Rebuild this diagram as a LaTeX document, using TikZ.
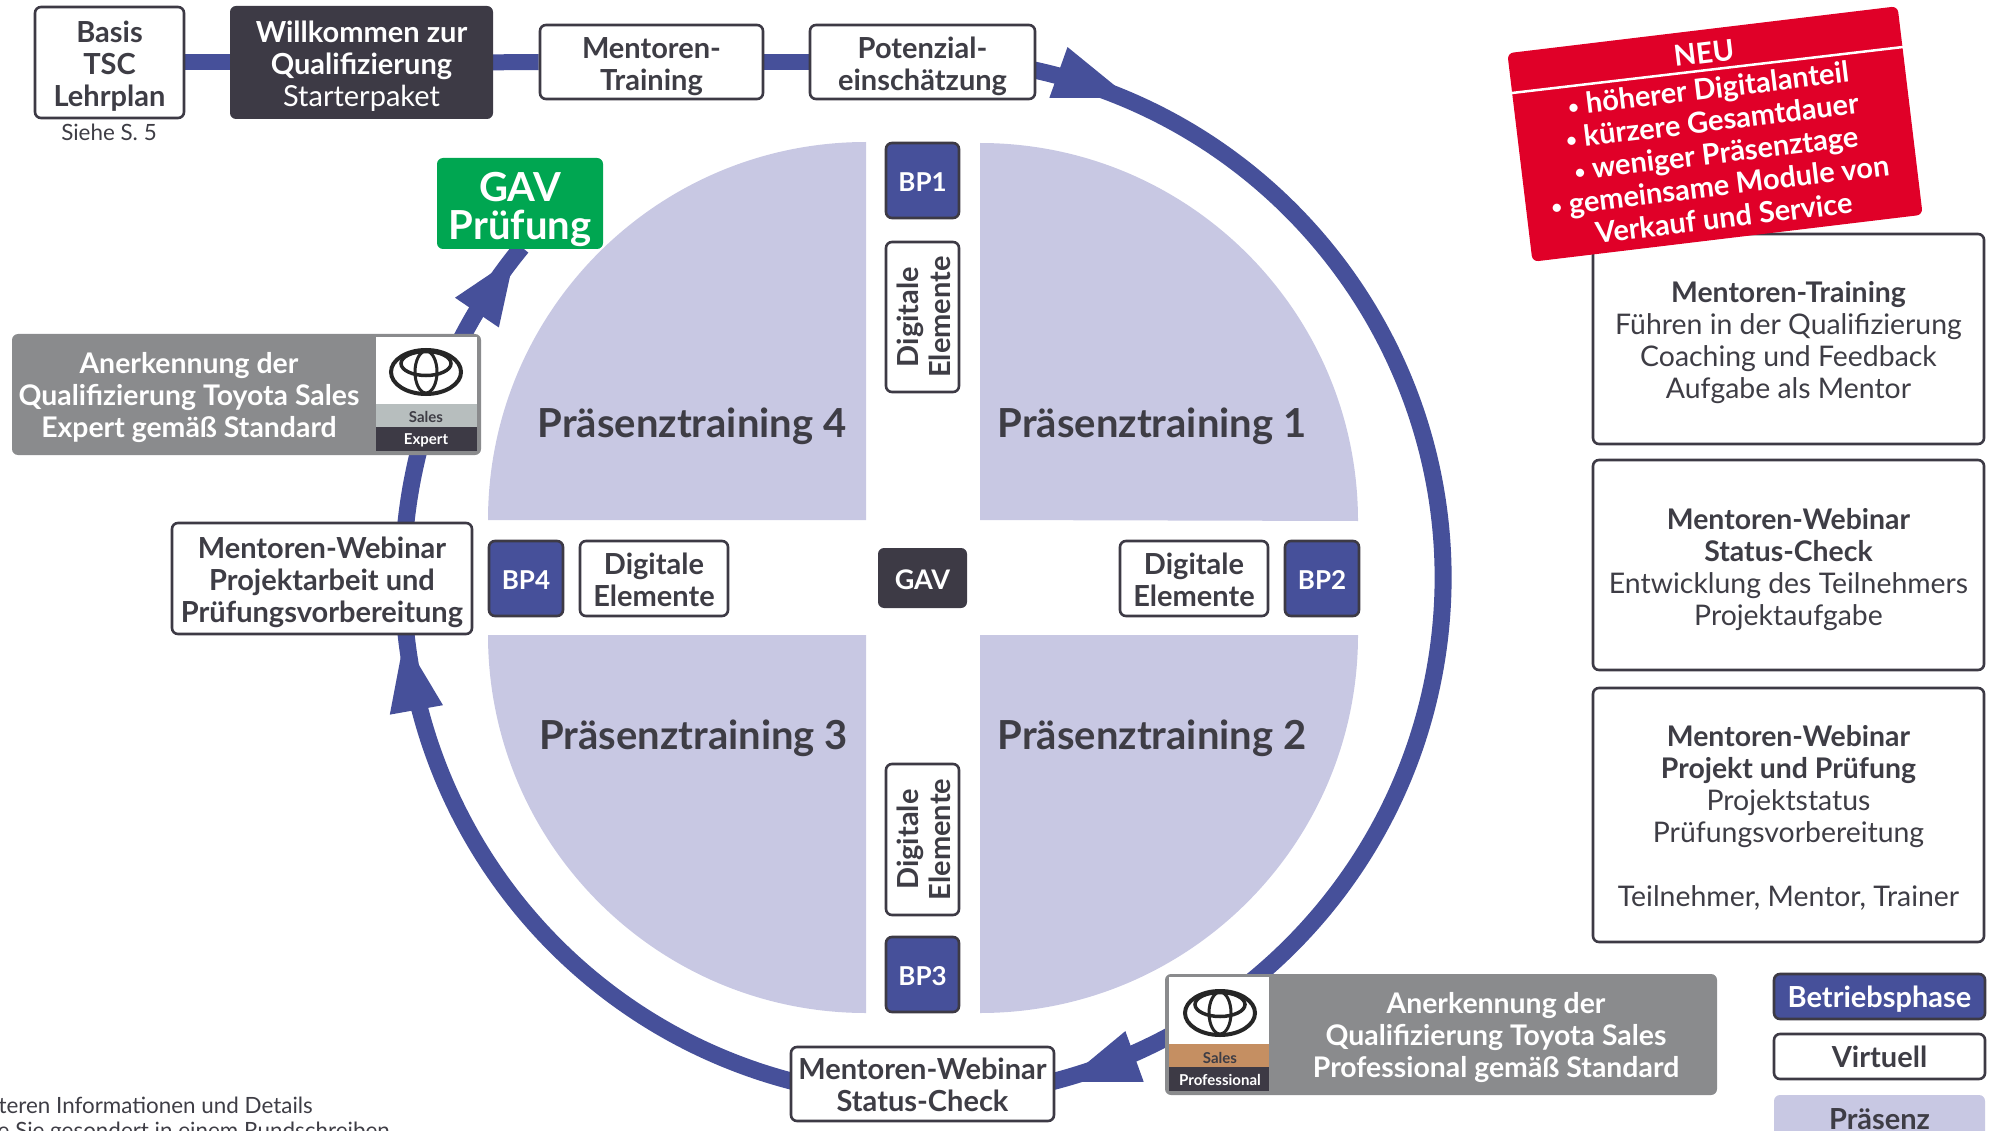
\documentclass[tikz,border=0pt]{standalone}
\usepackage{fontspec}
\setmainfont{Lato}
\usetikzlibrary{arrows.meta,calc}
\pgfdeclarelayer{bg}
\pgfsetlayers{bg,main}
\definecolor{tblue}{HTML}{46509A}
\definecolor{tlav}{HTML}{C8C8E3}
\definecolor{tdark}{HTML}{3D3A45}
\definecolor{ttext}{HTML}{3E3D45}
\definecolor{tgreen}{HTML}{00A651}
\definecolor{tred}{HTML}{E00028}
\definecolor{tgrey}{HTML}{8A8B8D}
\definecolor{ttan}{HTML}{C58F62}
\definecolor{tsil}{HTML}{B7BEBE}
\newcommand{\fs}[2]{\fontsize{#1}{#2}\selectfont}
\newcommand{\T}[1]{\raisebox{-6pt}[\height][\depth]{\begin{tabular}{@{}c@{}}#1\end{tabular}}}
\newcommand{\Tr}[1]{\raisebox{-5pt}[\height][\depth]{\begin{tabular}{@{}c@{}}#1\end{tabular}}}
\newcommand{\sbul}{\raisebox{1.5pt}{\scalebox{0.65}{•}}}
\tikzset{
 base/.style={rounded corners=6pt,inner sep=0pt,align=center,text=ttext,font=\fs{29}{32}},
 wbox/.style={base,draw=tdark,line width=2.6pt,fill=white,font=\fs{29}{32}\bfseries},
 dbox/.style={base,fill=tdark,text=white,font=\fs{29}{32}},
 bpbox/.style={base,draw=tdark,line width=2.6pt,fill=tblue,text=white,font=\fs{26}{32}\bfseries},
 infobox/.style={wbox,font=\fs{28.4}{32}},
 greybox/.style={base,fill=tgrey,text=white,font=\fs{28.4}{32}\bfseries},
 piecolor/.style={fill=tlav,draw=none},
 ptext/.style={text=ttext,font=\fs{40}{40}\bfseries,inner sep=0pt},
 ringline/.style={draw=tblue,line width=17pt},
 chain/.style={draw=tblue,line width=16pt},
 headline/.style={draw=tblue,line width=10pt},
 plain/.style={inner sep=0pt,text=ttext,font=\fs{22.4}{26}},
 badge/.style={inner sep=0pt,font=\fs{15}{16}\bfseries},
 panel/.style={fill=white,draw=none},
 logoring/.style={draw=black!85,fill=none},
}
\begin{document}
\begin{tikzpicture}[x=1pt,y=-1pt]
\useasboundingbox (0,0) rectangle (1993,1131);
\coordinate (rc) at (923,578);
% top chain
\node[wbox,minimum width=149pt,minimum height=111pt] (basis) at (109.5,62.5) {\T{Basis\\TSC\\Lehrplan}};
\node[plain] (siehe) at (109,132) {Siehe S. 5};
\node[dbox,minimum width=263pt,minimum height=113pt] (will) at (361.5,62.5) {\T{\bfseries Willkommen zur\\\bfseries Qualifizierung\\Starterpaket}};
\node[wbox,minimum width=223pt,minimum height=74pt] (mt) at (651.5,62) {\T{Mentoren-\\Training}};
\node[wbox,minimum width=225pt,minimum height=74pt] (pot) at (922.5,62) {\T{Potenzial-\\einschätzung}};
% centre
\node[base,fill=tgreen,minimum width=166pt,minimum height=91pt] (gavp) at (520,203.5) {};
\node[inner sep=0pt,text=white,align=center,font=\fs{40}{38}\bfseries] (gavt) at (520,209) {GAV\\Prüfung};
\node[bpbox,minimum width=73pt,minimum height=75pt] (bp1) at (922.5,180.5) {\Tr{BP1}};
\node[wbox,rotate=90,minimum width=150pt,minimum height=73pt] (de1) at (922.5,317) {\T{Digitale\\Elemente}};
\node[wbox,minimum width=300pt,minimum height=111pt] (webl) at (322,578.5) {\T{Mentoren-Webinar\\Projektarbeit und\\Prüfungsvorbereitung}};
\node[bpbox,minimum width=74pt,minimum height=75pt] (bp4) at (526,578.5) {\Tr{BP4}};
\node[wbox,minimum width=148pt,minimum height=75pt] (de4) at (654,578.5) {\T{Digitale\\Elemente}};
\node[base,fill=tdark,text=white,minimum width=89pt,minimum height=60pt,font=\fs{27}{32}\bfseries] (gav) at (922.5,578) {\Tr{GAV}};
\node[wbox,minimum width=148pt,minimum height=75pt] (de2) at (1194,578.5) {\T{Digitale\\Elemente}};
\node[bpbox,minimum width=74pt,minimum height=75pt] (bp2) at (1322,578.5) {\Tr{BP2}};
\node[wbox,rotate=90,minimum width=151pt,minimum height=73pt] (de3) at (922.5,839.5) {\T{Digitale\\Elemente}};
\node[bpbox,minimum width=73pt,minimum height=75pt] (bp3) at (922.5,974.5) {\Tr{BP3}};
\node[wbox,minimum width=263pt,minimum height=74pt] (webb) at (922.5,1084) {\Tr{Mentoren-Webinar\\Status-Check}};
\node[ptext] (p1) at (1152,426.5) {Präsenztraining 1};
\node[ptext] (p2) at (1152,738.5) {Präsenztraining 2};
\node[ptext] (p3) at (693.5,738.5) {Präsenztraining 3};
\node[ptext] (p4) at (692,426.5) {Präsenztraining 4};
% recognition boxes
\node[greybox,minimum width=469pt,minimum height=121pt] (exp) at (246.5,394.5) {};
\node[inner sep=0pt,text=white,align=center,font=\fs{28.4}{32}\bfseries] (expt) at (189,397.5) {Anerkennung der\\Qualifizierung Toyota Sales\\Expert gemäß Standard};
\fill[panel] (376,337) rectangle (477,404);
\fill[tsil] (376,404) rectangle (477,427);
\fill[tdark] (376,427) rectangle (477,451);
\draw[logoring,line width=4pt] (426,372) ellipse [x radius=35,y radius=22];
\draw[logoring,line width=3pt] (426,372) ellipse [x radius=11,y radius=21];
\draw[logoring,line width=3.5pt] (426,363.5) ellipse [x radius=25,y radius=12];
\node[badge,text=ttext] (exps) at (426,417) {Sales};
\node[badge,text=white] (expe) at (426,440) {Expert};
\node[greybox,minimum width=552pt,minimum height=121pt] (pro) at (1441,1034.5) {};
\node[inner sep=0pt,text=white,align=center,font=\fs{28.4}{32}\bfseries] (prot) at (1496,1037.5) {Anerkennung der\\Qualifizierung Toyota Sales\\Professional gemäß Standard};
\fill[panel] (1169,977) rectangle (1269,1044);
\fill[ttan] (1169,1044) rectangle (1269,1067);
\fill[tdark] (1169,1067) rectangle (1269,1091);
\draw[logoring,line width=4pt] (1220,1013) ellipse [x radius=35,y radius=22];
\draw[logoring,line width=3pt] (1220,1013) ellipse [x radius=11,y radius=21];
\draw[logoring,line width=3.5pt] (1220,1004.5) ellipse [x radius=25,y radius=12];
\node[badge,text=ttext] (pros) at (1220,1057.5) {Sales};
\node[badge,text=white] (prop) at (1220,1080) {Professional};
% right column
\node[infobox,minimum width=391pt,minimum height=210pt] (r1) at (1788.5,339) {\Tr{\textbf{Mentoren-Training}\\Führen in der Qualifizierung\\Coaching und Feedback\\Aufgabe als Mentor}};
\node[infobox,minimum width=391pt,minimum height=210pt] (r2) at (1788.5,565) {\T{\textbf{Mentoren-Webinar}\\\textbf{Status-Check}\\Entwicklung des Teilnehmers\\Projektaufgabe}};
\node[infobox,minimum width=391pt,minimum height=254pt] (r3) at (1788.5,815) {\Tr{\textbf{Mentoren-Webinar}\\\textbf{Projekt und Prüfung}\\Projektstatus\\Prüfungsvorbereitung\\~\\Teilnehmer, Mentor, Trainer}};
% red note
\node[base,fill=tred,rotate=6.87,minimum width=393pt,minimum height=210pt] (red) at (1715,134) {};
\node[inner sep=0pt,rotate=6.87,text=white,font=\fs{29}{25}\bfseries] (neu) at (1704,53) {NEU};
\node[inner sep=0pt,rotate=6.87,text=white,align=center,font=\fs{29}{32.5}\bfseries] (redt) at (1716,153) {\sbul\ höherer Digitalanteil\\\sbul\ kürzere Gesamtdauer\\\sbul\ weniger Präsenztage\\\sbul\ gemeinsame Module von\\Verkauf und Service};
\coordinate (rula) at (1512,93);
\coordinate (rulb) at (1903,47);
\draw[white,line width=2.5pt] (rula) -- (rulb);
% legend
\node[bpbox,minimum width=211pt,minimum height=45pt,font=\fs{29}{32}\bfseries] (l1) at (1879.5,996.5) {\Tr{Betriebsphase}};
\node[wbox,minimum width=211pt,minimum height=45pt] (l2) at (1879.5,1056.5) {\Tr{Virtuell}};
\node[base,fill=tlav,minimum width=211pt,minimum height=46pt,font=\fs{29}{32}\bfseries] (l3) at (1879.5,1118) {\Tr{Präsenz}};
% footnote
\node[plain,anchor=east] (f1) at (313,1105.5) {teren Informationen und Details};
\node[plain,anchor=east] (f2) at (390,1132) {e Sie gesondert in einem Rundschreiben};
% connectors and quadrants underneath
\begin{pgfonlayer}{bg}
\fill[piecolor] (980,520) -- (980,143) arc[start angle=-90,end angle=0,radius=378] -- cycle;
\fill[piecolor] (866,520) -- (488,520) arc[start angle=180,end angle=270,radius=378] -- cycle;
\fill[piecolor] (866,635) -- (866,1013) arc[start angle=90,end angle=180,radius=378] -- cycle;
\fill[piecolor] (980,635) -- (1358,635) arc[start angle=0,end angle=90,radius=378] -- cycle;
\draw[chain] (basis) -- (will);
\draw[chain] (will) -- (mt);
\draw[chain] (mt) -- (pot);
\coordinate (a1) at ($(rc)+(-78:520)$);
\coordinate (a2) at ($(rc)+(104:520)$);
\coordinate (a3) at ($(rc)+(185:520)$);
\draw[ringline] (a1) arc[start angle=-78,end angle=76,radius=520];
\draw[ringline] (a2) arc[start angle=104,end angle=175,radius=520];
\draw[ringline] (a3) arc[start angle=185,end angle=219.5,radius=520];
\coordinate (h1a) at (1058.5,72.5); \coordinate (h1b) at (1130,98);
\coordinate (h2a) at (1134.5,1056.5); \coordinate (h2b) at (1064,1082);
\coordinate (h3a) at (416.5,710.5); \coordinate (h3b) at (404,640);
\coordinate (h4a) at (477,312.5); \coordinate (h4b) at (514,258);
\draw[headline,-{Triangle[width=54pt,length=76pt,line width=0pt]}] (h1a) -- (h1b);
\draw[headline,-{Triangle[width=54pt,length=75pt,line width=0pt]}] (h2a) -- (h2b);
\draw[headline,-{Triangle[width=54pt,length=71pt,line width=0pt]}] (h3a) -- (h3b);
\draw[headline,-{Triangle[width=53pt,length=66pt,line width=0pt]}] (h4a) -- (h4b);
\end{pgfonlayer}
\end{tikzpicture}
\end{document}
